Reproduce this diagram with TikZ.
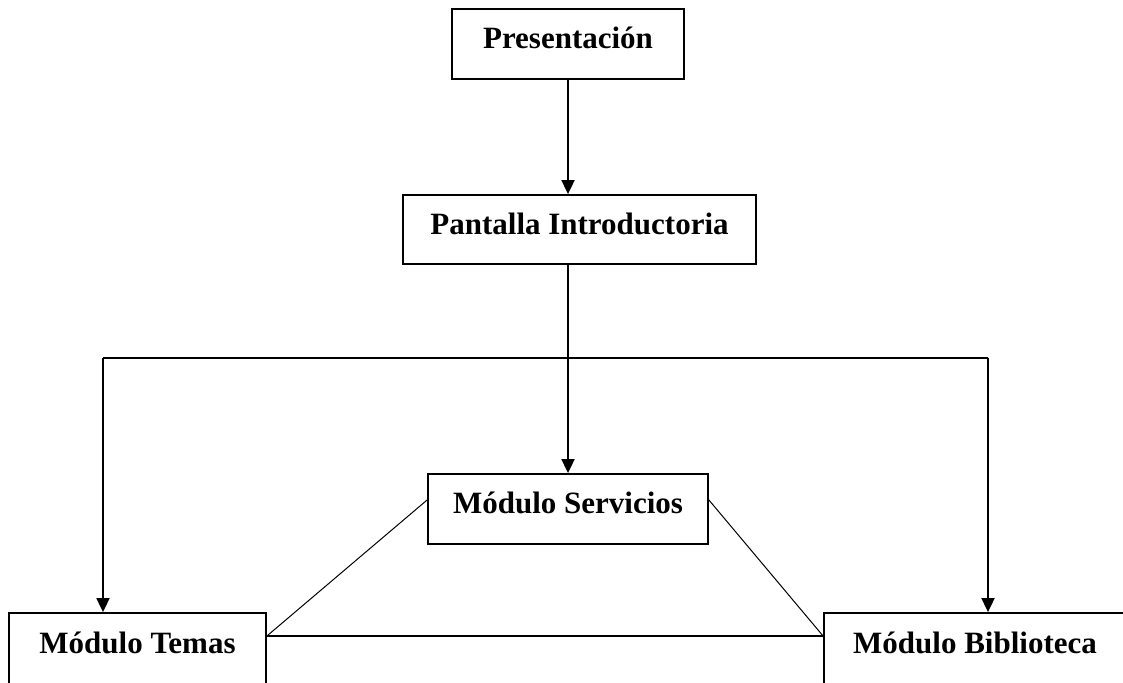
\documentclass[tikz,border=0pt]{standalone}
\usepackage{fontspec}
\setmainfont{Liberation Serif}
\usetikzlibrary{arrows.meta}
\begin{document}
\begin{tikzpicture}[x=1pt,y=1pt,
  box/.style={draw=black, line width=1.8pt, fill=white, inner sep=0pt,
    text height=22pt, text depth=12pt,
    font=\fontsize{31}{37}\selectfont\bfseries},
  flow/.style={line width=1.8pt, -{Triangle[width=13pt,length=14pt]}},
  link/.style={line width=1pt},
  base/.style={line width=1.6pt}]
\useasboundingbox (0,0) rectangle (1123,682);
\clip (0,0) rectangle (1123,682);
\fill[white] (0,0) rectangle (1123,682);

% boxes
\node[box, minimum width=232pt, minimum height=70pt] (pres) at (568,638) {Presentación};
\node[box, minimum width=353pt, minimum height=69pt] (pant) at (579.5,452.5) {Pantalla Introductoria};
\node[box, minimum width=280pt, minimum height=70pt] (serv) at (568,173) {Módulo Servicios};
\node[box, minimum width=257pt, minimum height=72pt] (temas) at (137.5,33) {Módulo Temas};
\node[box, minimum width=302pt, minimum height=72pt] (bibl) at (975,33) {Módulo Biblioteca};

% main flow
\draw[flow] (pres.south) -- (pres.south |- pant.north);
\draw[flow] (serv.north |- pant.south) -- (serv.north);

% branch to the side modules
\coordinate (left) at ([xshift=-34.5pt]temas.north);
\coordinate (right) at ([xshift=13pt]bibl.north);
\draw[flow] (left |- 0,324) -- (left);
\draw[flow] (right |- 0,324) -- (right);
\draw[line width=1.8pt] (left |- 0,324) -- (right |- 0,324);

% links between modules
\draw[link] ([yshift=9pt]serv.west) -- ([yshift=13pt]temas.east);
\draw[link] ([yshift=9pt]serv.east) -- ([yshift=13pt]bibl.west);
\draw[base] ([yshift=13pt]temas.east) -- ([yshift=13pt]bibl.west);
\end{tikzpicture}
\end{document}
